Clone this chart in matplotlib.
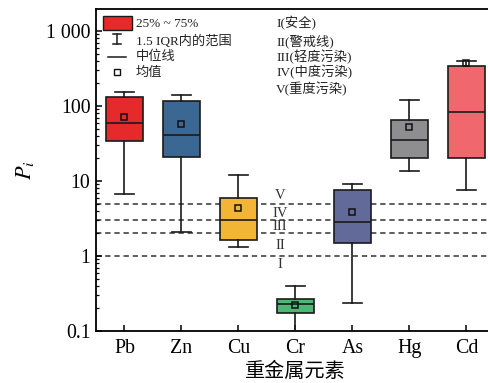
import matplotlib
matplotlib.use("Agg")
import matplotlib.pyplot as plt
from matplotlib.patches import Rectangle
from matplotlib.lines import Line2D

plt.rcParams['font.family'] = ['Liberation Serif', 'Noto Sans CJK SC']
plt.rcParams['mathtext.fontset'] = 'stix'

elements = ["Pb", "Zn", "Cu", "Cr", "As", "Hg", "Cd"]
whis_lo = [6.65, 2.09, 1.33, 0.09, 0.234, 13.7, 7.6]
q1 = [34.1, 20.9, 1.63, 0.172, 1.50, 20.3, 20.1]
median = [58.8, 40.6, 2.99, 0.227, 2.87, 35.2, 84.0]
mean = [70.7, 57.5, 4.33, 0.22, 3.86, 53.0, 371.0]
q3 = [130.6, 115.6, 5.88, 0.265, 7.66, 65.0, 338.0]
whis_hi = [153.8, 140.0, 11.9, 0.398, 9.2, 120.0, 398.0]
colors = ["#E62A2C", "#3B6893", "#F4B536", "#4CB873", "#626A99", "#8E8E90", "#F0686E"]

levels = [1, 2, 3, 5]
level_marks = ["I", "II", "III", "IV", "V"]
level_mark_y = [0.76, 1.36, 2.44, 3.74, 6.5]
legend_items = ["25% ~ 75%", "1.5 IQR内的范围", "中位线", "均值"]
level_names = ["I(安全)", "II(警戒线)", "III(轻度污染)", "IV(中度污染)", "V(重度污染)"]

fig = plt.figure(figsize=(4.89, 3.83), dpi=100)
ax = fig.add_axes([96/489, 1-331/383, 399/489, 322/383])

for lv in levels:
    ax.axhline(lv, color="#333333", lw=1.1, ls=(0, (3.5, 2.5)), zorder=1)

stats = []
for i, name in enumerate(elements):
    stats.append(dict(label=name, whislo=whis_lo[i], q1=q1[i], med=median[i],
                      q3=q3[i], whishi=whis_hi[i], mean=mean[i], fliers=[]))

bp = ax.bxp(stats, positions=range(1, len(elements)+1), widths=0.65,
            capwidths=0.33, patch_artist=True, showmeans=True, showfliers=False,
            boxprops=dict(edgecolor="#1a1a1a", linewidth=1.2),
            medianprops=dict(color="#1a1a1a", linewidth=1.2),
            whiskerprops=dict(color="#1a1a1a", linewidth=1.2),
            capprops=dict(color="#1a1a1a", linewidth=1.2),
            meanprops=dict(marker="s", markerfacecolor="none", markeredgecolor="#111111",
                           markersize=4.5, markeredgewidth=1.1))
for patch, c in zip(bp["boxes"], colors):
    patch.set_facecolor(c)
for art in bp["boxes"] + bp["medians"] + bp["whiskers"] + bp["caps"] + bp["means"]:
    art.set_zorder(3)

ax.set_yscale("log")
ax.set_ylim(0.1, 1965)
ax.set_xlim(0.5, len(elements)+0.5)
ax.set_yticks([0.1, 1, 10, 100, 1000])
ax.set_yticklabels(["0.1", "1", "10", "100", "1 000"])
ax.set_xticks(range(1, len(elements)+1))
ax.set_xticklabels(elements)
ax.tick_params(axis="both", which="major", direction="in", length=4, width=1.1, labelsize=14.3, pad=4)
ax.tick_params(axis="y", which="minor", direction="in", length=2.5, width=0.9)
ax.tick_params(axis="x", which="major", pad=6)
ax.spines["right"].set_visible(False)
for s in ["left", "bottom", "top"]:
    ax.spines[s].set_linewidth(1.3)

ax.set_ylabel(r"$P_i$", fontsize=16, labelpad=7)
ax.set_xlabel("重金属元素", fontsize=14.5, labelpad=3)

for m, y in zip(level_marks, level_mark_y):
    ax.text(3.73, y, m, ha="center", va="center", fontsize=10.5, color="#333333", zorder=4)

# legend (manual)
def fx(px):
    return (px - 96) / 399
def fy(py):
    return (331 - py) / 322

tr = ax.transAxes
ax.add_patch(Rectangle((fx(103), fy(30)), fx(132)-fx(103), fy(16)-fy(30), transform=tr,
                       facecolor=colors[0], edgecolor="#1a1a1a", lw=1.0, clip_on=False, zorder=5))
ax.add_line(Line2D([fx(117), fx(117)], [fy(34), fy(44)], transform=tr, color="#1a1a1a", lw=1.1))
ax.add_line(Line2D([fx(113), fx(121)], [fy(34), fy(34)], transform=tr, color="#1a1a1a", lw=1.1))
ax.add_line(Line2D([fx(113), fx(121)], [fy(44), fy(44)], transform=tr, color="#1a1a1a", lw=1.1))
ax.add_line(Line2D([fx(108), fx(126)], [fy(57), fy(57)], transform=tr, color="#1a1a1a", lw=1.1))
ax.add_line(Line2D([fx(117)], [fy(72)], transform=tr, marker="s", markersize=4, markerfacecolor="none",
                   markeredgecolor="#111111", markeredgewidth=1.0, lw=0))
for txt, py in zip(legend_items, [24, 41.5, 57, 72.5]):
    ax.text(fx(136), fy(py), txt, transform=tr, ha="left", va="center", fontsize=9.5, color="#222222")
for txt, py in zip(level_names, [23, 41, 57, 72, 89]):
    ax.text(fx(276), fy(py), txt, transform=tr, ha="left", va="center", fontsize=9.5, color="#222222")

fig.savefig("out.png", dpi=100)
